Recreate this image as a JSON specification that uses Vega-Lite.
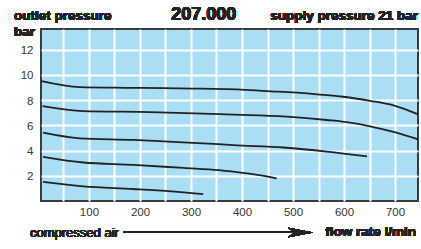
{
  "$schema": "https://vega.github.io/schema/vega-lite/v6.json",
  "width": 377,
  "height": 172,
  "autosize": "none",
  "padding": {"left": 41, "top": 29, "right": 3, "bottom": 48},
  "background": "white",
  "config": {
    "font": "Liberation Sans",
    "view": {"fill": "#a9def5", "stroke": "#3a3a3a", "strokeWidth": 2},
    "axis": {"domain": false, "ticks": false, "grid": true, "gridColor": "white", "gridWidth": 2, "gridOpacity": 1, "labelFont": "Liberation Sans", "labelFontSize": 11.5, "labelColor": "#333333", "labelOverlap": false, "labelFlush": false}
  },
  "resolve": {"axis": {"x": "independent", "y": "independent"}},
  "data": {"values": [
    {"curve": "a", "flow": 7, "pressure": 9.49},
    {"curve": "a", "flow": 82, "pressure": 9.02},
    {"curve": "a", "flow": 170, "pressure": 8.97},
    {"curve": "a", "flow": 246, "pressure": 8.95},
    {"curve": "a", "flow": 320, "pressure": 8.9},
    {"curve": "a", "flow": 390, "pressure": 8.85},
    {"curve": "a", "flow": 448, "pressure": 8.71},
    {"curve": "a", "flow": 507, "pressure": 8.58},
    {"curve": "a", "flow": 547, "pressure": 8.45},
    {"curve": "a", "flow": 599, "pressure": 8.26},
    {"curve": "a", "flow": 651, "pressure": 7.94},
    {"curve": "a", "flow": 697, "pressure": 7.58},
    {"curve": "a", "flow": 745, "pressure": 6.87},
    {"curve": "b", "flow": 9, "pressure": 7.52},
    {"curve": "b", "flow": 89, "pressure": 7.13},
    {"curve": "b", "flow": 220, "pressure": 7.05},
    {"curve": "b", "flow": 357, "pressure": 6.88},
    {"curve": "b", "flow": 435, "pressure": 6.79},
    {"curve": "b", "flow": 501, "pressure": 6.65},
    {"curve": "b", "flow": 566, "pressure": 6.42},
    {"curve": "b", "flow": 612, "pressure": 6.21},
    {"curve": "b", "flow": 651, "pressure": 5.92},
    {"curve": "b", "flow": 697, "pressure": 5.47},
    {"curve": "b", "flow": 745, "pressure": 4.89},
    {"curve": "c", "flow": 10, "pressure": 5.42},
    {"curve": "c", "flow": 82, "pressure": 4.97},
    {"curve": "c", "flow": 187, "pressure": 4.84},
    {"curve": "c", "flow": 265, "pressure": 4.68},
    {"curve": "c", "flow": 354, "pressure": 4.5},
    {"curve": "c", "flow": 383, "pressure": 4.43},
    {"curve": "c", "flow": 481, "pressure": 4.24},
    {"curve": "c", "flow": 566, "pressure": 3.92},
    {"curve": "c", "flow": 645, "pressure": 3.53},
    {"curve": "d", "flow": 10, "pressure": 3.5},
    {"curve": "d", "flow": 89, "pressure": 3.05},
    {"curve": "d", "flow": 187, "pressure": 2.87},
    {"curve": "d", "flow": 285, "pressure": 2.62},
    {"curve": "d", "flow": 354, "pressure": 2.45},
    {"curve": "d", "flow": 383, "pressure": 2.32},
    {"curve": "d", "flow": 430, "pressure": 2.07},
    {"curve": "d", "flow": 468, "pressure": 1.8},
    {"curve": "e", "flow": 10, "pressure": 1.52},
    {"curve": "e", "flow": 89, "pressure": 1.16},
    {"curve": "e", "flow": 187, "pressure": 0.95},
    {"curve": "e", "flow": 285, "pressure": 0.69},
    {"curve": "e", "flow": 324, "pressure": 0.55}
  ]},
  "layer": [
    {
      "mark": {"type": "line", "interpolate": "monotone", "color": "#222222", "strokeWidth": 1.8, "clip": true},
      "encoding": {
        "x": {"field": "flow", "type": "quantitative", "scale": {"domain": [6, 745], "nice": false, "zero": false},
          "axis": {"title": null, "values": [50, 100, 150, 200, 250, 300, 350, 400, 450, 500, 550, 600, 650, 700], "labelExpr": "datum.value % 100 === 0 ? datum.label : ''", "labelPadding": 5, "labelBaseline": "top", "labelOverlap": false}},
        "y": {"field": "pressure", "type": "quantitative", "scale": {"domain": [0, 13.63], "nice": false, "zero": false},
          "axis": {"title": null, "values": [2, 4, 6, 8, 10, 12], "labelPadding": 8, "labelBaseline": "middle", "labelOffset": 1, "labelOverlap": false}},
        "detail": {"field": "curve", "type": "nominal"}
      }
    },
    {
      "mark": {"type": "text", "text": "outlet pressure", "align": "left", "baseline": "alphabetic", "fontWeight": "bold", "fontSize": 13.5, "color": "#222222"},
      "encoding": {"x": {"datum": -47, "type": "quantitative", "axis": null}, "y": {"datum": 14.31, "type": "quantitative", "axis": null}}
    },
    {
      "mark": {"type": "text", "text": "bar", "align": "left", "baseline": "alphabetic", "fontWeight": "bold", "fontSize": 13.5, "color": "#222222"},
      "encoding": {"x": {"datum": -47, "type": "quantitative", "axis": null}, "y": {"datum": 13.05, "type": "quantitative", "axis": null}}
    },
    {
      "mark": {"type": "text", "text": "207.000", "align": "center", "baseline": "alphabetic", "fontWeight": "bold", "fontSize": 18, "color": "#222222"},
      "encoding": {"x": {"datum": 325, "type": "quantitative", "axis": null}, "y": {"datum": 14.31, "type": "quantitative", "axis": null}}
    },
    {
      "mark": {"type": "text", "text": "supply pressure 21 bar", "align": "right", "baseline": "alphabetic", "fontWeight": "bold", "fontSize": 13.5, "color": "#222222"},
      "encoding": {"x": {"datum": 745, "type": "quantitative", "axis": null}, "y": {"datum": 14.31, "type": "quantitative", "axis": null}}
    },
    {
      "mark": {"type": "text", "text": "compressed air", "align": "left", "baseline": "alphabetic", "fontSize": 13, "color": "#222222"},
      "encoding": {"x": {"datum": -15.6, "type": "quantitative", "axis": null}, "y": {"datum": -2.87, "type": "quantitative", "axis": null}}
    },
    {
      "mark": {"type": "text", "text": "flow rate l/min", "align": "right", "baseline": "alphabetic", "fontWeight": "bold", "fontSize": 13.5, "color": "#222222"},
      "encoding": {"x": {"datum": 741, "type": "quantitative", "axis": null}, "y": {"datum": -2.79, "type": "quantitative", "axis": null}}
    },
    {
      "mark": {"type": "rule", "color": "#222222", "strokeWidth": 1.3},
      "encoding": {"x": {"datum": 167, "type": "quantitative", "axis": null}, "x2": {"datum": 510}, "y": {"datum": -2.49, "type": "quantitative", "axis": null}}
    },
    {
      "mark": {"type": "point", "shape": "M1,0 L-1,-0.38 L-0.55,0 L-1,0.38 Z", "filled": true, "color": "#222222", "opacity": 1, "size": 625},
      "encoding": {"x": {"datum": 515, "type": "quantitative", "axis": null}, "y": {"datum": -2.49, "type": "quantitative", "axis": null}}
    }
  ]
}
